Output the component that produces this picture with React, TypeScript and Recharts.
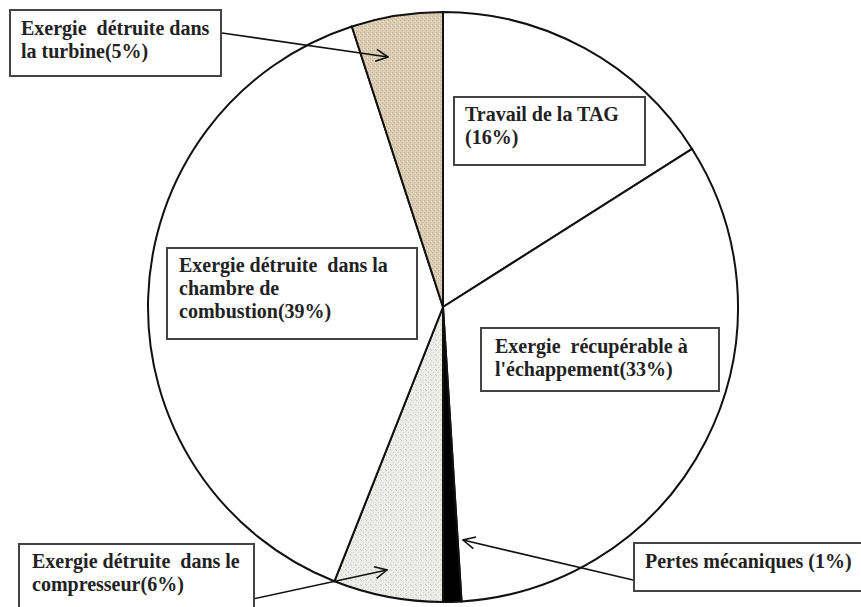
import { PieChart, Pie, Cell } from 'recharts';

// exergy balance of the gas turbine (TAG), clockwise from the top
const categories = [
  'Travail de la TAG',
  "Exergie récupérable à l'échappement",
  'Pertes mécaniques',
  'Exergie détruite dans le compresseur',
  'Exergie détruite dans la chambre de combustion',
  'Exergie détruite dans la turbine',
];
const shares = [16, 33, 1, 6, 39, 5];

const labelLines = [
  ['Travail de la TAG', '(16%)'],
  ['Exergie  récupérable à', "l'échappement(33%)"],
  ['Pertes mécaniques (1%)'],
  ['Exergie détruite  dans le', 'compresseur(6%)'],
  ['Exergie détruite  dans la', 'chambre de', 'combustion(39%)'],
  ['Exergie  détruite dans', 'la turbine(5%)'],
];

const data = categories.map((name, i) => ({ name, value: shares[i] }));

const sliceFills = ['#ffffff', '#ffffff', '#000000', 'url(#speckGray)', '#ffffff', 'url(#speckTan)'];

// annotation boxes: [left, top, width, height, textLeft, firstBaseline]
const boxes: number[][] = [
  [453, 96, 193, 70, 465, 121],
  [480, 327, 240, 65, 495, 353],
  [633, 542, 240, 50, 645, 568],
  [18, 543, 237, 80, 32, 568],
  [166, 247, 252, 93, 179, 272],
  [9, 9, 213, 68, 21, 35],
];

// arrows from a box to its slice: [x1, y1, x2, y2]
const arrows: (number[] | null)[] = [
  null,
  null,
  [633, 580, 463, 540],
  [248, 600, 387, 570],
  null,
  [222, 33, 388, 57],
];

const FONT = '"Liberation Serif", "Times New Roman", serif';
const LINE_H = 23;

export default function App() {
  return (
    <div
      style={{
        position: 'absolute',
        left: 0,
        top: 0,
        width: 861,
        height: 607,
        overflow: 'hidden',
        background: '#fff',
      }}
    >
      <PieChart width={861} height={607} margin={{ top: 0, right: 0, bottom: 0, left: 0 }}>
        <defs>
          <pattern id="speckTan" width="4" height="4" patternUnits="userSpaceOnUse">
            <rect width="4" height="4" fill="#dbcdb3" />
            <rect x="0" y="0" width="1" height="1" fill="#bfae8c" />
            <rect x="2" y="2" width="1" height="1" fill="#c9b999" />
            <rect x="3" y="1" width="1" height="1" fill="#ece3d2" />
          </pattern>
          <pattern id="speckGray" width="5" height="5" patternUnits="userSpaceOnUse">
            <rect width="5" height="5" fill="#ebebe7" />
            <rect x="1" y="0" width="1" height="1" fill="#cdcdc8" />
            <rect x="3" y="2" width="1" height="1" fill="#d6d6d1" />
            <rect x="0" y="4" width="1" height="1" fill="#cacac5" />
            <rect x="4" y="3" width="1" height="1" fill="#fafafa" />
          </pattern>
        </defs>
        <Pie
          data={data}
          dataKey="value"
          nameKey="name"
          cx={443}
          cy={307}
          innerRadius={0}
          outerRadius={295}
          startAngle={90}
          endAngle={-270}
          stroke="#111"
          strokeWidth={2}
          label={false}
          labelLine={false}
          isAnimationActive={false}
        >
          {data.map((d, i) => (
            <Cell key={d.name} fill={sliceFills[i]} />
          ))}
        </Pie>
      </PieChart>

      <svg
        width={861}
        height={607}
        style={{ position: 'absolute', left: 0, top: 0, pointerEvents: 'none' }}
      >
        <defs>
          <marker
            id="head"
            viewBox="0 0 14 14"
            refX="13"
            refY="7"
            markerWidth="14"
            markerHeight="14"
            markerUnits="userSpaceOnUse"
            orient="auto"
          >
            <path d="M1,1 L13,7 L1,13" fill="none" stroke="#111" strokeWidth="1.6" />
          </marker>
        </defs>
        {arrows.map((a, i) =>
          a ? (
            <line
              key={i}
              x1={a[0]}
              y1={a[1]}
              x2={a[2]}
              y2={a[3]}
              stroke="#111"
              strokeWidth={1.6}
              markerEnd="url(#head)"
            />
          ) : null,
        )}
      </svg>

      {boxes.map((b, i) => (
        <div
          key={categories[i]}
          style={{
            position: 'absolute',
            left: b[0],
            top: b[1],
            width: b[2],
            height: b[3],
            boxSizing: 'border-box',
            border: '2px solid #444',
            background: '#fff',
          }}
        >
          <div
            style={{
              position: 'absolute',
              left: b[4] - b[0] - 2,
              top: b[5] - 18 - b[1] - 2,
              fontFamily: FONT,
              fontWeight: 'bold',
              fontSize: 20,
              lineHeight: `${LINE_H}px`,
              color: '#222',
              whiteSpace: 'pre',
            }}
          >
            {labelLines[i].map((t) => (
              <div key={t}>{t}</div>
            ))}
          </div>
        </div>
      ))}
    </div>
  );
}
